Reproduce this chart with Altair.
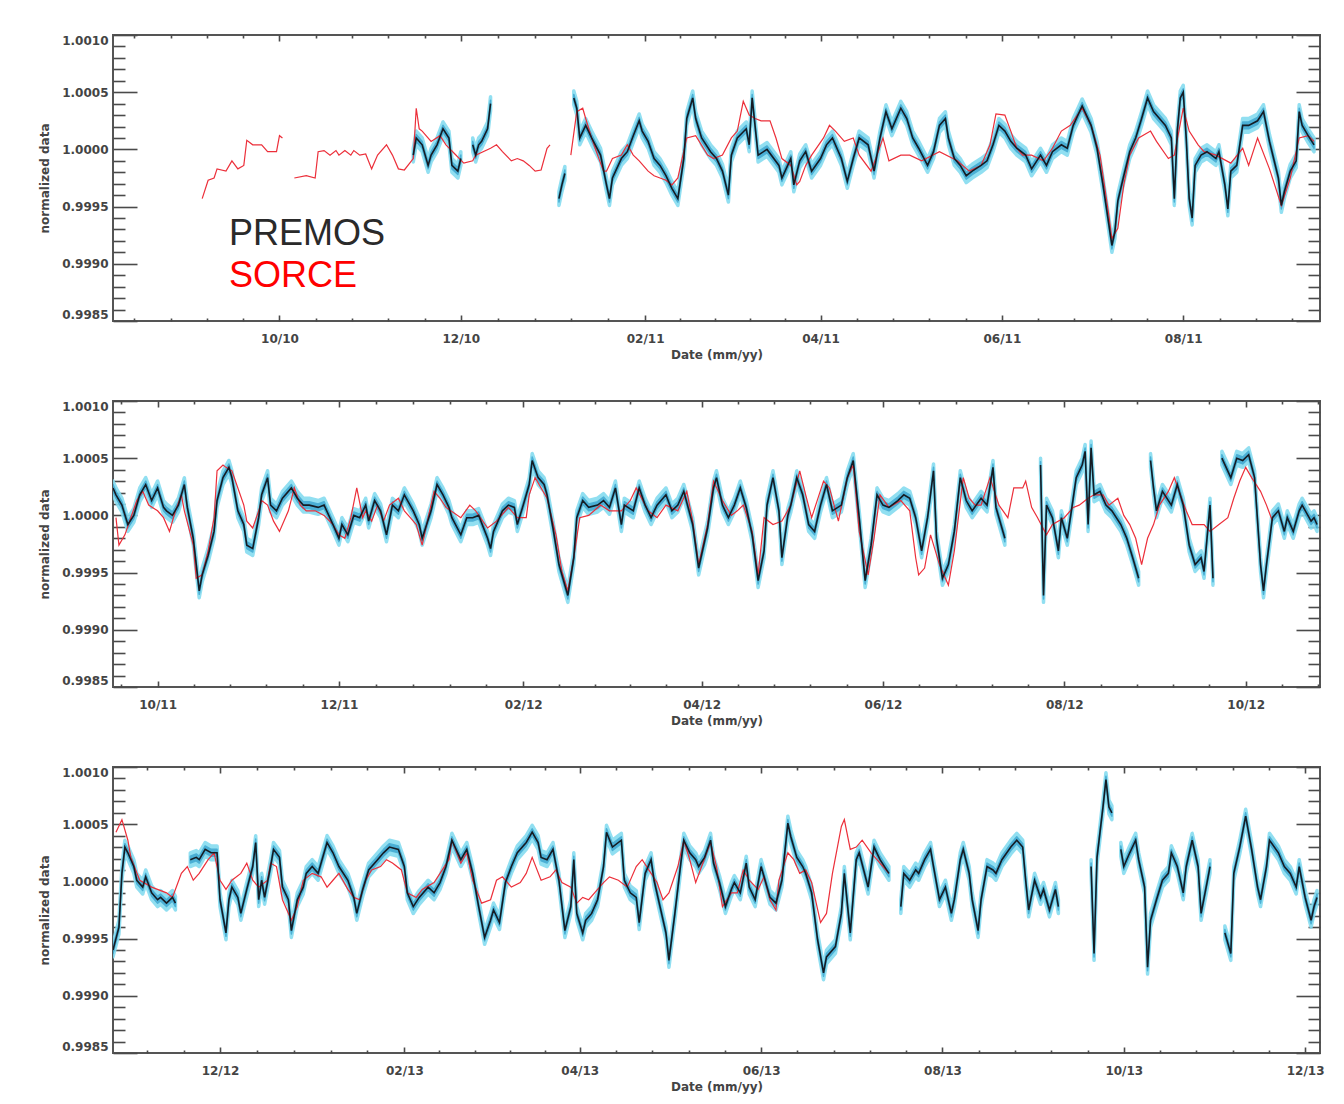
import altair as alt
import pandas as pd

# ---------------------------------------------------------------------------
# Panel layout: three consecutive 406-day windows of normalized irradiance
# ---------------------------------------------------------------------------
PANEL_STARTS = ["2010-08-06", "2011-09-16", "2012-10-26"]
PANEL_DAYS = 406

Y_MIN, Y_MAX = 0.9985, 1.0010
Y_MAJOR = [0.9985, 0.9990, 0.9995, 1.0000, 1.0005, 1.0010]
Y_MINOR = [round(0.9985 + 0.0001 * i, 4) for i in range(26)]

# PREMOS uncertainty envelope (outer and inner shading)
PREMOS_ERR_OUTER = 0.00006
PREMOS_ERR_INNER = 0.00003

LEGEND_LABELS = ["PREMOS", "SORCE"]
LEGEND_COLORS = ["#2a2a2a", "#ff0000"]
LEGEND_DAY = 39                      # day offset in first panel
LEGEND_VALUES = [0.999160, 0.998800]  # text baselines

# (day offset from panel start, normalized value); None marks a data gap
p1_premos = [
    (101, 0.99995), (102, 1.00010), (104, 1.00004), (106, 0.99986), (107, 0.99995),
    (109, 1.00004), (111, 1.00018), (113, 1.00010), (114, 0.99986), (116, 0.99981),
    (117, 0.99992),
    None,
    (121, 1.00004), (122, 0.99995), (123, 1.00004), (124, 1.00007), (126, 1.00018),
    (127, 1.00040),
    None,
    (150, 0.99957), (151, 0.99969), (152, 0.99979),
    None,
    (155, 1.00045), (156, 1.00036), (157, 1.00010), (159, 1.00021), (161, 1.00010),
    (164, 0.99995), (166, 0.99969), (167, 0.99957), (168, 0.99975), (171, 0.99992),
    (173, 0.99998), (175, 1.00012), (177, 1.00025), (178, 1.00016), (180, 1.00007),
    (182, 0.99992), (184, 0.99986), (186, 0.99977), (188, 0.99966), (190, 0.99957),
    (192, 0.99992), (193, 1.00027), (195, 1.00045), (196, 1.00027), (198, 1.00010),
    (201, 0.99998), (203, 0.99992), (205, 0.99981), (207, 0.99960), (208, 0.99995),
    (210, 1.00010), (213, 1.00018), (214, 1.00004), (215, 1.00045), (217, 0.99995),
    (220, 1.00000), (224, 0.99986), (225, 0.99975), (228, 0.99992), (229, 0.99969),
    (231, 0.99990), (233, 0.99998), (235, 0.99981), (238, 0.99992), (240, 1.00004),
    (242, 1.00010), (245, 0.99992), (247, 0.99972), (249, 0.99992), (251, 1.00010),
    (254, 1.00004), (256, 0.99981), (258, 1.00010), (260, 1.00033), (262, 1.00018),
    (265, 1.00036), (267, 1.00027), (269, 1.00010), (271, 1.00001), (274, 0.99986),
    (276, 0.99998), (278, 1.00021), (280, 1.00027), (281, 1.00010), (283, 0.99992),
    (285, 0.99986), (287, 0.99977), (289, 0.99981), (292, 0.99986), (294, 0.99990),
    (296, 1.00004), (298, 1.00021), (300, 1.00016), (302, 1.00007), (304, 1.00001),
    (307, 0.99995), (309, 0.99983), (312, 0.99995), (314, 0.99986), (316, 0.99998),
    (319, 1.00004), (321, 1.00001), (323, 1.00021), (326, 1.00038), (329, 1.00021),
    (331, 1.00001), (333, 0.99969), (335, 0.99934), (336, 0.99916), (337, 0.99928),
    (338, 0.99955), (340, 0.99977), (342, 0.99998), (344, 1.00010), (346, 1.00027),
    (348, 1.00045), (350, 1.00033), (352, 1.00027), (354, 1.00021), (356, 1.00010),
    (357, 0.99957), (358, 1.00016), (359, 1.00045), (360, 1.00050), (361, 1.00010),
    (362, 0.99957), (363, 0.99940), (364, 0.99986), (366, 0.99995), (368, 0.99998),
    (371, 0.99992), (372, 0.99998), (374, 0.99969), (375, 0.99948), (376, 0.99981),
    (378, 0.99986), (380, 1.00021), (382, 1.00021), (385, 1.00025), (387, 1.00033),
    (389, 1.00007), (392, 0.99975), (393, 0.99951), (394, 0.99963), (396, 0.99981),
    (398, 0.99990), (399, 1.00033), (400, 1.00021), (402, 1.00012), (404, 1.00004),
]

p1_sorce = [
    (30, 0.99957), (32, 0.99973), (34, 0.99975), (35, 0.99983), (38, 0.99981),
    (40, 0.99990), (42, 0.99983), (44, 0.99986), (45, 1.00008), (47, 1.00004),
    (50, 1.00004), (52, 0.99998), (55, 0.99998), (56, 1.00012), (57, 1.00010),
    None,
    (61, 0.99975), (65, 0.99977), (68, 0.99975), (69, 0.99998), (71, 0.99999),
    (73, 0.99995), (75, 0.99999), (76, 0.99995), (78, 0.99999), (80, 0.99995),
    (81, 0.99999), (83, 0.99995), (85, 0.99996), (87, 0.99983), (89, 0.99995),
    (92, 1.00004), (94, 0.99995), (96, 0.99983), (98, 0.99982), (101, 0.99992),
    (102, 1.00036), (103, 1.00018), (104, 1.00016), (107, 1.00007), (110, 1.00012),
    (112, 1.00004), (115, 0.99996), (118, 0.99988), (121, 0.99990), (122, 0.99995),
    (127, 1.00001), (129, 1.00004), (131, 0.99998), (134, 0.99990), (136, 0.99992),
    (138, 0.99990), (140, 0.99986), (142, 0.99981), (144, 0.99982), (146, 1.00001),
    (147, 1.00004),
    None,
    (154, 0.99995), (156, 1.00033), (158, 1.00036), (159, 1.00027), (161, 1.00010),
    (163, 0.99995), (165, 0.99981), (166, 0.99981), (168, 0.99992), (171, 0.99995),
    (173, 1.00004), (175, 0.99995), (177, 0.99990), (180, 0.99981), (182, 0.99977),
    (184, 0.99975), (186, 0.99973), (188, 0.99969), (190, 0.99975), (193, 1.00010),
    (196, 1.00012), (200, 0.99995), (202, 0.99992), (205, 0.99995), (208, 1.00010),
    (210, 1.00016), (212, 1.00042), (214, 1.00030), (216, 1.00027), (218, 1.00025),
    (221, 1.00025), (223, 1.00010), (225, 0.99992), (228, 0.99986), (230, 0.99969),
    (231, 0.99972), (233, 0.99986), (235, 0.99995), (239, 1.00010), (241, 1.00021),
    (243, 1.00016), (246, 1.00007), (249, 1.00010), (251, 0.99995), (255, 0.99981),
    (257, 0.99995), (259, 1.00010), (261, 0.99990), (265, 0.99995), (268, 0.99995),
    (272, 0.99990), (278, 0.99998), (284, 0.99990), (288, 0.99981), (292, 0.99986),
    (295, 1.00004), (297, 1.00031), (300, 1.00030), (302, 1.00016), (304, 1.00001),
    (306, 0.99995), (309, 0.99995), (313, 0.99990), (316, 1.00001), (319, 1.00016),
    (322, 1.00021), (326, 1.00036), (329, 1.00021), (332, 0.99995), (335, 0.99942),
    (336, 0.99922), (338, 0.99931), (340, 0.99969), (342, 0.99995), (345, 1.00010),
    (349, 1.00016), (351, 1.00007), (355, 0.99992), (357, 0.99995), (360, 1.00036),
    (362, 1.00016), (365, 1.00004), (367, 0.99998), (371, 0.99995), (376, 0.99988),
    (380, 1.00001), (382, 0.99986), (385, 1.00010), (389, 0.99983), (393, 0.99951),
    (396, 0.99975), (399, 1.00010), (402, 1.00012), (404, 1.00007),
]

p2_premos = [
    (0, 1.00024), (1, 1.00018), (3, 1.00009), (5, 0.99992), (7, 1.00000),
    (9, 1.00018), (11, 1.00027), (13, 1.00013), (15, 1.00024), (17, 1.00007),
    (18, 1.00004), (20, 1.00000), (22, 1.00009), (24, 1.00027), (25, 1.00007),
    (27, 0.99980), (29, 0.99934), (30, 0.99948), (32, 0.99965), (34, 0.99986),
    (35, 1.00013), (37, 1.00033), (39, 1.00042), (40, 1.00033), (42, 1.00004),
    (44, 0.99992), (45, 0.99974), (47, 0.99971), (49, 0.99998), (50, 1.00018),
    (52, 1.00033), (53, 1.00009), (55, 1.00004), (57, 1.00015), (60, 1.00024),
    (62, 1.00015), (64, 1.00009), (66, 1.00009), (69, 1.00007), (71, 1.00009),
    (74, 0.99992), (76, 0.99980), (77, 0.99992), (79, 0.99983), (81, 1.00000),
    (83, 0.99998), (85, 1.00009), (86, 0.99995), (88, 1.00013), (90, 1.00004),
    (92, 0.99983), (94, 1.00009), (96, 1.00004), (98, 1.00018), (101, 1.00004),
    (103, 0.99992), (104, 0.99980), (107, 1.00004), (109, 1.00027), (111, 1.00018),
    (113, 1.00007), (114, 0.99998), (117, 0.99983), (119, 0.99998), (121, 0.99998),
    (123, 1.00000), (126, 0.99980), (127, 0.99971), (128, 0.99986), (131, 1.00004),
    (133, 1.00009), (135, 1.00007), (136, 0.99992), (138, 1.00009), (140, 1.00027),
    (141, 1.00048), (143, 1.00033), (145, 1.00027), (146, 1.00018), (148, 0.99989),
    (150, 0.99957), (153, 0.99930), (155, 0.99963), (156, 0.99998), (158, 1.00013),
    (160, 1.00007), (163, 1.00009), (165, 1.00013), (167, 1.00007), (169, 1.00024),
    (171, 0.99992), (172, 1.00009), (175, 1.00004), (177, 1.00024), (179, 1.00009),
    (181, 0.99998), (183, 1.00009), (186, 1.00018), (188, 1.00004), (190, 1.00009),
    (192, 1.00021), (195, 0.99992), (197, 0.99954), (200, 0.99989), (202, 1.00024),
    (203, 1.00033), (205, 1.00009), (207, 0.99998), (209, 1.00009), (211, 1.00024),
    (213, 1.00007), (215, 0.99983), (217, 0.99943), (219, 0.99969), (220, 1.00009),
    (222, 1.00033), (224, 1.00004), (225, 0.99963), (227, 1.00000), (228, 1.00009),
    (230, 1.00033), (232, 1.00018), (234, 0.99992), (236, 0.99986), (238, 1.00009),
    (240, 1.00027), (242, 1.00004), (245, 1.00009), (247, 1.00033), (249, 1.00048),
    (251, 0.99998), (253, 0.99943), (255, 0.99974), (257, 1.00018), (259, 1.00009),
    (261, 1.00007), (264, 1.00013), (266, 1.00018), (268, 1.00015), (270, 0.99998),
    (272, 0.99969), (274, 0.99998), (276, 1.00039), (277, 0.99980), (279, 0.99945),
    (281, 0.99957), (283, 0.99986), (285, 1.00033), (287, 1.00013), (289, 1.00004),
    (292, 1.00015), (294, 1.00009), (296, 1.00042), (297, 1.00007), (300, 0.99980),
    None,
    (312, 1.00044), (313, 0.99930), (314, 1.00009), (316, 0.99998), (318, 0.99969),
    (319, 0.99998), (321, 0.99980), (323, 1.00015), (324, 1.00033), (326, 1.00044),
    (327, 1.00056), (328, 0.99992), (329, 1.00059), (330, 1.00018), (332, 1.00021),
    (334, 1.00009), (336, 1.00004), (339, 0.99992), (341, 0.99980), (343, 0.99963),
    (345, 0.99945),
    None,
    (349, 1.00048), (350, 1.00024), (351, 1.00004), (353, 1.00021), (356, 1.00009),
    (358, 1.00027), (360, 1.00009), (362, 0.99974), (364, 0.99957), (366, 0.99963),
    (367, 0.99951), (369, 1.00009), (370, 0.99945),
    None,
    (373, 1.00050), (376, 1.00033), (378, 1.00050), (380, 1.00048), (382, 1.00053),
    (384, 1.00033), (386, 0.99957), (387, 0.99934), (388, 0.99957), (390, 0.99998),
    (392, 1.00004), (394, 0.99986), (395, 0.99998), (397, 0.99986), (399, 1.00004),
    (400, 1.00009), (403, 0.99995), (404, 0.99998), (405, 0.99992),
]

p2_sorce = [
    (1, 0.99998), (2, 0.99974), (4, 0.99983), (6, 0.99998), (8, 1.00013),
    (10, 1.00021), (12, 1.00009), (15, 1.00004), (17, 0.99998), (19, 0.99986),
    (21, 1.00004), (23, 1.00018), (24, 1.00004), (27, 0.99974), (28, 0.99945),
    (30, 0.99948), (32, 0.99969), (34, 0.99998), (35, 1.00039), (37, 1.00044),
    (38, 1.00042), (40, 1.00039), (42, 1.00024), (44, 1.00009), (45, 0.99995),
    (47, 0.99989), (49, 1.00004), (50, 1.00013), (52, 1.00009), (54, 0.99995),
    (56, 0.99986), (59, 1.00004), (61, 1.00024), (63, 1.00009), (65, 1.00004),
    (68, 1.00004), (71, 1.00000), (74, 0.99992), (76, 0.99983), (78, 0.99980),
    (80, 0.99998), (82, 1.00024), (84, 0.99998), (85, 1.00004), (87, 0.99995),
    (89, 1.00009), (91, 0.99995), (93, 1.00009), (96, 1.00015), (98, 1.00004),
    (100, 0.99998), (102, 0.99992), (104, 0.99974), (106, 0.99998), (108, 1.00021),
    (110, 1.00015), (112, 1.00007), (117, 0.99998), (120, 1.00009), (122, 1.00004),
    (126, 0.99989), (129, 0.99995), (133, 1.00007), (136, 0.99998), (139, 0.99998),
    (140, 1.00018), (142, 1.00033), (144, 1.00024), (146, 1.00015), (149, 0.99983),
    (151, 0.99951), (153, 0.99934), (155, 0.99963), (157, 0.99998), (160, 1.00000),
    (164, 1.00009), (167, 1.00004), (171, 1.00004), (174, 1.00013), (176, 1.00024),
    (180, 1.00004), (183, 0.99998), (186, 1.00009), (190, 1.00004), (193, 1.00021),
    (195, 0.99995), (197, 0.99957), (200, 0.99992), (202, 1.00030), (205, 1.00013),
    (208, 1.00000), (210, 1.00004), (212, 1.00009), (215, 0.99986), (217, 0.99948),
    (219, 0.99998), (222, 0.99992), (225, 0.99995), (228, 1.00009), (231, 1.00039),
    (233, 1.00018), (235, 0.99998), (239, 1.00030), (241, 1.00024), (244, 0.99995),
    (247, 1.00033), (249, 1.00044), (251, 0.99986), (254, 0.99948), (256, 0.99980),
    (258, 1.00018), (261, 1.00007), (265, 1.00013), (268, 1.00004), (270, 0.99963),
    (271, 0.99948), (273, 0.99954), (275, 0.99983), (278, 0.99957), (281, 0.99939),
    (283, 0.99969), (286, 1.00033), (288, 1.00015), (290, 1.00009), (292, 1.00009),
    (295, 1.00033), (298, 1.00009), (301, 0.99998), (303, 1.00024), (306, 1.00024),
    (307, 1.00030), (309, 1.00007), (311, 0.99998), (314, 0.99983), (316, 0.99992),
    (320, 0.99998), (323, 1.00007), (325, 1.00009), (328, 1.00015), (330, 1.00018),
    (333, 1.00018), (335, 1.00009), (338, 1.00015), (340, 1.00000), (342, 0.99992),
    (344, 0.99980), (346, 0.99957), (348, 0.99980), (350, 0.99992), (352, 1.00009),
    (355, 1.00021), (357, 1.00033), (359, 1.00018), (361, 1.00004), (363, 0.99992),
    (367, 0.99992), (369, 0.99986), (372, 0.99992), (375, 0.99998), (377, 1.00015),
    (379, 1.00030), (381, 1.00042), (383, 1.00033), (386, 1.00021), (388, 1.00009),
    (390, 0.99995),
]

p3_premos = [
    (0, 0.99940), (2, 0.99960), (3, 1.00007), (4, 1.00030), (5, 1.00025),
    (7, 1.00013), (8, 1.00001), (10, 0.99995), (11, 1.00004), (13, 0.99990),
    (15, 0.99984), (16, 0.99986), (18, 0.99981), (20, 0.99986), (21, 0.99981),
    None,
    (26, 1.00019), (28, 1.00021), (29, 1.00019), (31, 1.00028), (33, 1.00025),
    (35, 1.00025), (36, 0.99984), (38, 0.99955), (39, 0.99984), (40, 0.99995),
    (42, 0.99986), (43, 0.99972), (45, 0.99993), (47, 1.00013), (48, 1.00034),
    (49, 0.99984), (50, 1.00001), (51, 0.99986), (53, 1.00013), (54, 1.00028),
    (56, 1.00021), (57, 0.99995), (59, 0.99984), (60, 0.99957), (62, 0.99984),
    (64, 0.99995), (65, 1.00007), (67, 1.00013), (69, 1.00007), (70, 1.00016),
    (72, 1.00034), (74, 1.00025), (76, 1.00013), (79, 1.00001), (81, 0.99986),
    (82, 0.99972), (84, 0.99993), (86, 1.00010), (89, 1.00019), (91, 1.00025),
    (93, 1.00030), (96, 1.00028), (98, 1.00013), (99, 0.99990), (101, 0.99978),
    (103, 0.99986), (106, 0.99995), (108, 0.99990), (110, 0.99999), (112, 1.00013),
    (114, 1.00036), (117, 1.00019), (119, 1.00028), (121, 1.00007), (123, 0.99978),
    (125, 0.99951), (127, 0.99966), (128, 0.99975), (130, 0.99964), (132, 0.99999),
    (134, 1.00013), (136, 1.00025), (139, 1.00034), (141, 1.00043), (143, 1.00034),
    (144, 1.00021), (146, 1.00019), (148, 1.00028), (150, 1.00001), (152, 0.99957),
    (154, 0.99978), (155, 1.00019), (156, 0.99972), (158, 0.99955), (159, 0.99966),
    (161, 0.99972), (163, 0.99984), (165, 1.00013), (166, 1.00043), (168, 1.00030),
    (171, 1.00036), (172, 1.00001), (174, 0.99990), (176, 0.99986), (177, 0.99964),
    (179, 1.00007), (181, 1.00019), (182, 1.00001), (184, 0.99978), (186, 0.99955),
    (187, 0.99931), (189, 0.99972), (191, 1.00016), (192, 1.00036), (194, 1.00025),
    (196, 1.00019), (197, 1.00013), (199, 1.00021), (201, 1.00036), (202, 1.00016),
    (204, 0.99999), (206, 0.99978), (208, 0.99993), (209, 0.99999), (211, 0.99990),
    (213, 1.00016), (214, 0.99995), (216, 0.99984), (218, 1.00013), (219, 1.00004),
    (221, 0.99986), (223, 0.99981), (225, 1.00001), (227, 1.00051), (228, 1.00039),
    (230, 1.00021), (232, 1.00013), (233, 1.00007), (235, 0.99990), (237, 0.99949),
    (239, 0.99920), (240, 0.99934), (243, 0.99943), (245, 0.99972), (246, 1.00007),
    (248, 0.99955), (250, 1.00019), (251, 1.00025), (254, 0.99995), (256, 1.00030),
    (258, 1.00019), (261, 1.00007),
    None,
    (265, 0.99978), (266, 1.00007), (268, 1.00001), (270, 1.00010), (271, 1.00007),
    (273, 1.00019), (275, 1.00028), (276, 1.00013), (278, 0.99984), (280, 0.99995),
    (282, 0.99972), (283, 0.99984), (285, 1.00019), (286, 1.00028), (288, 1.00007),
    (289, 0.99984), (291, 0.99957), (292, 0.99984), (294, 1.00013), (296, 1.00010),
    (297, 1.00007), (299, 1.00019), (302, 1.00030), (304, 1.00036), (306, 1.00030),
    (307, 1.00001), (308, 0.99975), (310, 1.00001), (312, 0.99986), (313, 0.99993),
    (315, 0.99975), (317, 0.99993), (318, 0.99978),
    None,
    (329, 1.00013), (330, 0.99937), (331, 1.00021), (333, 1.00065), (334, 1.00089),
    (335, 1.00065), (336, 1.00060),
    None,
    (339, 1.00028), (340, 1.00013), (342, 1.00025), (344, 1.00036), (345, 1.00019),
    (347, 0.99995), (348, 0.99925), (349, 0.99966), (351, 0.99984), (353, 1.00001),
    (355, 1.00007), (356, 1.00025), (358, 1.00013), (360, 0.99990), (361, 1.00013),
    (363, 1.00036), (365, 1.00013), (366, 0.99972), (368, 0.99999), (369, 1.00013),
    None,
    (374, 0.99955), (376, 0.99937), (377, 1.00007), (379, 1.00030), (381, 1.00057),
    (383, 1.00028), (385, 0.99995), (386, 0.99984), (388, 1.00013), (389, 1.00036),
    (392, 1.00025), (394, 1.00013), (396, 1.00007), (398, 0.99995), (399, 1.00013),
    (401, 0.99986), (403, 0.99966), (404, 0.99978), (405, 0.99986),
]

p3_sorce = [
    (1, 1.00043), (3, 1.00054), (5, 1.00036), (6, 1.00021), (9, 1.00001),
    (13, 0.99995), (18, 0.99990), (20, 0.99986), (23, 1.00007), (25, 1.00013),
    (27, 1.00001), (29, 1.00007), (32, 1.00019), (34, 1.00025), (36, 1.00001),
    (38, 0.99993), (40, 1.00001), (43, 1.00007), (45, 1.00016), (47, 1.00001),
    (49, 0.99995), (52, 1.00001), (53, 1.00016), (55, 1.00013), (57, 0.99984),
    (60, 0.99966), (62, 0.99978), (64, 1.00001), (67, 1.00007), (70, 1.00004),
    (72, 0.99995), (74, 1.00001), (76, 1.00007), (79, 0.99993), (81, 0.99986),
    (83, 0.99984), (85, 1.00001), (87, 1.00010), (90, 1.00013), (92, 1.00019),
    (94, 1.00016), (97, 1.00010), (99, 0.99990), (102, 0.99986), (104, 0.99993),
    (108, 0.99999), (110, 1.00007), (113, 1.00019), (114, 1.00036), (117, 1.00016),
    (119, 1.00025), (121, 1.00001), (124, 0.99981), (127, 0.99984), (129, 1.00001),
    (131, 1.00004), (134, 0.99995), (137, 0.99999), (139, 1.00007), (141, 1.00021),
    (144, 1.00001), (147, 1.00004), (149, 1.00010), (151, 0.99999), (154, 0.99995),
    (156, 0.99981), (158, 0.99986), (160, 0.99984), (163, 0.99993), (165, 0.99999),
    (167, 1.00004), (170, 1.00001), (173, 0.99995), (176, 1.00013), (178, 1.00019),
    (181, 1.00007), (183, 0.99999), (185, 0.99984), (187, 0.99990), (190, 1.00013),
    (192, 1.00036), (194, 1.00019), (196, 0.99999), (198, 1.00013), (201, 1.00034),
    (203, 1.00013), (205, 0.99978), (208, 0.99990), (210, 0.99990), (212, 1.00010),
    (214, 1.00001), (217, 0.99993), (219, 1.00004), (221, 0.99984), (223, 0.99975),
    (224, 1.00001), (227, 1.00025), (229, 1.00019), (231, 1.00007), (233, 1.00010),
    (235, 0.99999), (238, 0.99964), (240, 0.99972), (242, 1.00007), (245, 1.00048),
    (246, 1.00054), (248, 1.00028), (250, 1.00030), (252, 1.00036), (255, 1.00025),
    (258, 1.00016), (261, 1.00007),
]

PANEL_DATA = [
    (p1_premos, p1_sorce),
    (p2_premos, p2_sorce),
    (p3_premos, p3_sorce),
]

# ---------------------------------------------------------------------------
# Styling
# ---------------------------------------------------------------------------
FONT = "DejaVu Sans"
TEXT_GRAY = "#444444"
TICK_GRAY = "#4a4a4a"
FRAME_GRAY = "#555555"
BAND_OUTER = "#86dcf0"
BAND_INNER = "#34a0cc"
PREMOS_LINE = "#141c24"
SORCE_LINE = "#ec2f3a"

PLOT_W, PLOT_H = 1207, 286
X_MAJOR_LEN, X_MINOR_LEN = 6, 3
Y_MAJOR_LEN, Y_MINOR_LEN = 24, 12


def to_ms(ts):
    return int(pd.Timestamp(ts).value // 10**6)


def series_frame(start, pairs):
    t0 = pd.Timestamp(start)
    rows, seg = [], 0
    for item in pairs:
        if item is None:
            seg += 1
            continue
        day, val = item
        rows.append({"t": to_ms(t0 + pd.Timedelta(days=day)), "v": val, "seg": seg})
    return pd.DataFrame(rows)


def month_ticks(start):
    """Major ticks on the 1st of every even month, four minor ticks between."""
    t0 = pd.Timestamp(start)
    t1 = t0 + pd.Timedelta(days=PANEL_DAYS)
    months = pd.date_range(t0 - pd.DateOffset(months=3), t1 + pd.DateOffset(months=3), freq="MS")
    majors = [m for m in months if m.month % 2 == 0]
    minors = []
    for a, b in zip(majors[:-1], majors[1:]):
        step = (b - a) / 5
        minors += [a + step * k for k in range(1, 5)]
    keep = lambda seq: [to_ms(s) for s in seq if t0 <= s <= t1]
    return keep(majors), keep(minors)


def x_axis(orient, values, size, labels=False):
    kw = dict(orient=orient, values=values, tickSize=size, offset=-size,
              domain=False, grid=False, labels=labels, ticks=True,
              tickColor=TICK_GRAY, tickWidth=1.6)
    if labels:
        kw.update(labelExpr="utcFormat(datum.value, '%m/%y')", labelPadding=12,
                  labelFlush=False, title="Date (mm/yy)", titlePadding=5)
    else:
        kw["title"] = None
    return alt.Axis(**kw)


def y_axis(orient, values, size, labels=False):
    kw = dict(orient=orient, values=values, tickSize=size, offset=-size,
              domain=False, grid=False, labels=labels, ticks=True,
              tickColor=TICK_GRAY, tickWidth=1.6)
    if labels:
        kw.update(format=".4f", labelPadding=5, labelFlush=True,
                  title="normalized data", titlePadding=10)
    else:
        kw["title"] = None
    return alt.Axis(**kw)


def make_panel(start, premos, sorce, with_legend=False):
    t0 = pd.Timestamp(start)
    t1 = t0 + pd.Timedelta(days=PANEL_DAYS)
    x_major, x_minor = month_ticks(start)
    y_minor = [v for v in Y_MINOR if v not in Y_MAJOR]

    xs = alt.Scale(type="utc", domain=[to_ms(t0), to_ms(t1)])
    ys = alt.Scale(domain=[Y_MIN, Y_MAX], nice=False, zero=False)

    pdf = series_frame(start, premos)
    pdf["lo_out"] = pdf["v"] - PREMOS_ERR_OUTER
    pdf["hi_out"] = pdf["v"] + PREMOS_ERR_OUTER
    pdf["lo_in"] = pdf["v"] - PREMOS_ERR_INNER
    pdf["hi_in"] = pdf["v"] + PREMOS_ERR_INNER
    sdf = series_frame(start, sorce)

    # the envelope gets a same-coloured outline so steep stretches keep their width
    band_outer = alt.Chart(pdf).mark_area(
        color=BAND_OUTER, stroke=BAND_OUTER, strokeWidth=3.5, strokeJoin="round",
        opacity=0.9, clip=True,
    ).encode(
        x=alt.X("t:T", scale=xs, axis=x_axis("bottom", x_major, X_MAJOR_LEN, labels=True)),
        y=alt.Y("lo_out:Q", scale=ys, axis=y_axis("left", Y_MAJOR, Y_MAJOR_LEN, labels=True)),
        y2="hi_out:Q",
        detail="seg:N",
    )
    band_inner = alt.Chart(pdf).mark_area(
        color=BAND_INNER, stroke=BAND_INNER, strokeWidth=1.5, strokeJoin="round",
        opacity=0.75, clip=True,
    ).encode(
        x=alt.X("t:T", scale=xs, axis=x_axis("bottom", x_minor, X_MINOR_LEN)),
        y=alt.Y("lo_in:Q", scale=ys, axis=y_axis("left", y_minor, Y_MINOR_LEN)),
        y2="hi_in:Q",
        detail="seg:N",
    )
    sorce_line = alt.Chart(sdf).mark_line(color=SORCE_LINE, strokeWidth=1.2, clip=True).encode(
        x=alt.X("t:T", scale=xs, axis=x_axis("top", x_major, X_MAJOR_LEN)),
        y=alt.Y("v:Q", scale=ys, axis=y_axis("right", Y_MAJOR, Y_MAJOR_LEN)),
        detail="seg:N",
    )
    premos_line = alt.Chart(pdf).mark_line(color=PREMOS_LINE, strokeWidth=1.6, clip=True).encode(
        x=alt.X("t:T", scale=xs, axis=x_axis("top", x_minor, X_MINOR_LEN)),
        y=alt.Y("v:Q", scale=ys, axis=y_axis("right", y_minor, Y_MINOR_LEN)),
        detail="seg:N",
    )
    layers = [band_outer, band_inner, sorce_line, premos_line]

    if with_legend:
        legend_df = pd.DataFrame({
            "t": [to_ms(t0 + pd.Timedelta(days=LEGEND_DAY))] * len(LEGEND_LABELS),
            "v": LEGEND_VALUES,
            "label": LEGEND_LABELS,
            "color": LEGEND_COLORS,
        })
        legend = alt.Chart(legend_df).mark_text(
            align="left", baseline="alphabetic", font="Liberation Sans", fontSize=36
        ).encode(
            x=alt.X("t:T", scale=xs, axis=None),
            y=alt.Y("v:Q", scale=ys, axis=None),
            text="label:N",
            color=alt.Color("color:N", scale=None),
        )
        layers.append(legend)

    return alt.layer(*layers).resolve_axis(x="independent", y="independent").properties(
        width=PLOT_W, height=PLOT_H
    )


panels = [
    make_panel(start, premos, sorce, with_legend=(i == 0))
    for i, (start, (premos, sorce)) in enumerate(zip(PANEL_STARTS, PANEL_DATA))
]

chart = alt.vconcat(*panels, spacing=38).properties(
    padding={"left": 37, "top": 33, "right": 12, "bottom": 8},
    background="white",
).configure_view(
    stroke=FRAME_GRAY, strokeWidth=2
).configure_axis(
    labelFont=FONT, labelFontSize=12, labelFontWeight="bold", labelColor=TEXT_GRAY,
    titleFont=FONT, titleFontSize=12, titleFontWeight="bold", titleColor=TEXT_GRAY,
)

chart.save("out.html", embed_options={"renderer": "svg", "actions": False})
